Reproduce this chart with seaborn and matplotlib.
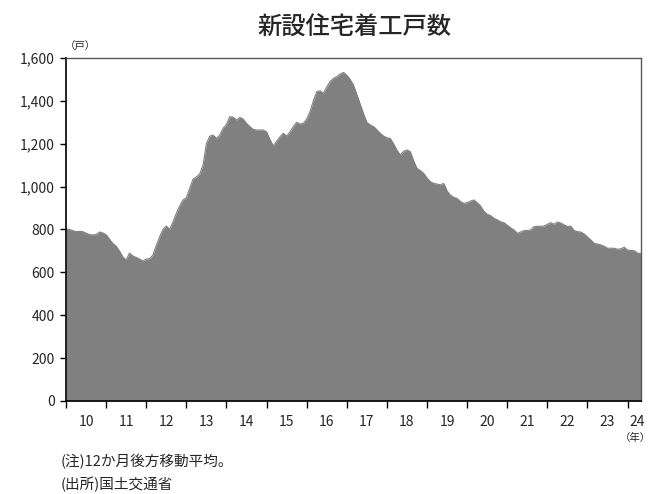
import numpy as np
import pandas as pd
import matplotlib
matplotlib.use("Agg")
import matplotlib.pyplot as plt
import seaborn as sns

# monthly values, Jan 2010 - May 2024 (12-month moving average)
starts = [
    802, 800, 795, 790, 791, 790, 783, 776, 775, 776, 788, 784,            # 2010
    776, 755, 735, 722, 700, 672, 658, 690, 676, 670, 662, 653,            # 2011
    662, 664, 681, 725, 765, 801, 816, 801, 835, 875, 910, 938,            # 2012
    948, 992, 1035, 1045, 1059, 1101, 1200, 1235, 1241, 1225, 1240, 1272,  # 2013
    1290, 1326, 1324, 1310, 1323, 1315, 1295, 1280, 1267, 1264, 1264, 1264,  # 2014
    1255, 1220, 1190, 1212, 1232, 1249, 1236, 1255, 1280, 1300, 1292, 1295,  # 2015
    1315, 1350, 1400, 1443, 1447, 1435, 1465, 1490, 1505, 1513, 1525, 1533,  # 2016
    1520, 1500, 1474, 1430, 1385, 1340, 1300, 1288, 1280, 1265, 1249, 1236,  # 2017
    1228, 1225, 1200, 1170, 1148, 1165, 1171, 1163, 1120, 1085, 1075, 1062,  # 2018
    1040, 1023, 1015, 1012, 1008, 1015, 980, 960, 950, 945, 930, 922,      # 2019
    925, 932, 938, 925, 910, 885, 871, 865, 852, 845, 836, 832,            # 2020
    820, 808, 798, 782, 788, 795, 795, 798, 813, 815, 815, 816,            # 2021
    824, 832, 824, 835, 830, 822, 813, 816, 795, 790, 788, 779,            # 2022
    765, 751, 736, 732, 728, 722, 712, 713, 712, 708, 710, 717,            # 2023
    704, 702, 701, 689, 689,                                               # 2024
]
year_labels = ["10", "11", "12", "13", "14", "15", "16", "17", "18", "19",
               "20", "21", "22", "23", "24"]
y_ticks = [0, 200, 400, 600, 800, 1000, 1200, 1400, 1600]

df = pd.DataFrame({"month": np.arange(len(starts)), "starts": starts})

sns.set_theme(style="white")
plt.rcParams["font.family"] = ["Noto Sans CJK JP", "DejaVu Sans"]

fig = plt.figure(figsize=(6.56, 4.94), dpi=100)
ax = fig.add_axes([0.1006, 0.1883, 0.8765, 0.6943])

fill_col = "#808080"
sns.lineplot(data=df, x="month", y="starts", ax=ax, color=fill_col, linewidth=0.8)
ax.fill_between(df["month"], 0, df["starts"], color=fill_col, linewidth=0)

last = len(starts) - 1
ax.set_xlim(0, last)
ax.set_ylim(0, 1600)
ax.set_xlabel("")
ax.set_ylabel("")

# year boundaries as ticks, labels centred in each year
ax.set_xticks(np.arange(0, last + 1, 12))
ax.set_xticklabels([])
mids = [12 * i + 6 for i in range(len(year_labels) - 1)] + [170.7]
ax.set_xticks(mids, minor=True)
ax.set_xticklabels(year_labels, minor=True, fontsize=10)
ax.tick_params(axis="x", which="major", direction="out", length=5, width=1, color="black", bottom=True)
ax.tick_params(axis="x", which="minor", length=0, pad=10, bottom=True)

ax.set_yticks(y_ticks)
ax.set_yticklabels([f"{v:,}" for v in y_ticks], fontsize=10)
ax.tick_params(axis="y", direction="out", length=4, width=1, color="black", left=True, pad=4)

for side in ["left", "bottom"]:
    ax.spines[side].set_color("black")
    ax.spines[side].set_linewidth(1.2)
for side in ["top", "right"]:
    ax.spines[side].set_color("#595959")
    ax.spines[side].set_linewidth(1.0)

fig.text(0.541, 0.943, "新設住宅着工戸数", ha="center", va="center", fontsize=17.5, fontweight="medium")
fig.text(0.122, 0.905, "（戸）", ha="center", va="center", fontsize=7.5)
fig.text(0.968, 0.113, "（年）", ha="center", va="center", fontsize=7.5)
fig.text(0.093, 0.065, "(注)12か月後方移動平均。", ha="left", va="center", fontsize=10.5)
fig.text(0.093, 0.020, "(出所)国土交通省", ha="left", va="center", fontsize=10.5)

fig.savefig("out.png", dpi=100)
